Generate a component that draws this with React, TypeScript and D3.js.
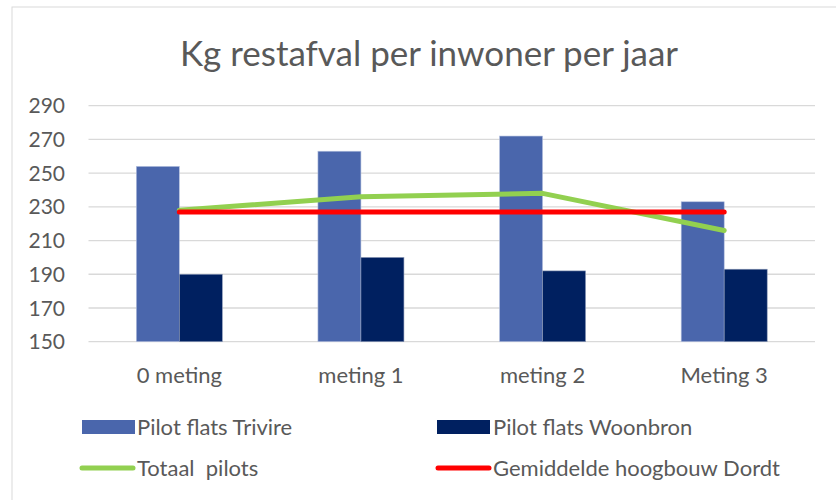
import React from 'react'
import * as d3 from 'd3'

const categories = ['0 meting', 'meting 1', 'meting 2', 'Meting 3']
const trivire = [254, 263, 272, 233]
const woonbron = [190, 200, 192, 193]
const totaalPilots = [228, 236, 238, 216]
const gemiddeldeDordt = [227, 227, 227, 227]
const yTicks = [150, 170, 190, 210, 230, 250, 270, 290]

const W = 836
const H = 500
const FONT = 'Lato, "Noto Sans", sans-serif'
const TEXT = '#595959'

export default function App() {
  const margin = { left: 88.5, right: 21, top: 105.7, bottom: 158.3 }

  const x = d3.scaleBand<string>()
    .domain(categories)
    .range([margin.left, W - margin.right])

  const y = d3.scaleLinear()
    .domain([150, 290])
    .range([H - margin.bottom, margin.top])

  const barW = 43
  const center = (c: string) => x(c)! + x.bandwidth() / 2

  const line = d3.line<number>()
    .x((_, i) => center(categories[i]))
    .y(d => y(d))

  return (
    <svg width={W} height={H} style={{ position: 'absolute', left: 0, top: 0, background: '#fff' }}>
      <rect x={12} y={7} width={W + 20} height={H + 20} fill="#fff" stroke="#d9d9d9" strokeWidth={1} />

      <text x={429} y={66} textAnchor="middle" fontFamily={FONT} fontSize={35} fill={TEXT}>
        Kg restafval per inwoner per jaar
      </text>

      {/* grid + y-axis labels */}
      {yTicks.map(t => (
        <g key={t}>
          <line x1={margin.left} x2={W - margin.right} y1={y(t)} y2={y(t)} stroke="#d9d9d9" strokeWidth={1.3} />
          <text x={65} y={y(t)} dy="0.36em" textAnchor="end" fontFamily={FONT} fontSize={21} fill={TEXT}>{t}</text>
        </g>
      ))}

      {/* bars */}
      {categories.map((c, i) => (
        <g key={c}>
          <rect x={center(c) - barW} y={y(trivire[i])} width={barW} height={y(150) - y(trivire[i])}
            fill="#4A66AC" stroke="#b4c0de" strokeWidth={0.6} />
          <rect x={center(c)} y={y(woonbron[i])} width={barW} height={y(150) - y(woonbron[i])}
            fill="#002060" stroke="#8c9ab8" strokeWidth={0.6} />
          <text x={center(c)} y={383} textAnchor="middle" fontFamily={FONT} fontSize={22} fill={TEXT}>{c}</text>
        </g>
      ))}

      <path d={line(totaalPilots)!} fill="none" stroke="#92D050" strokeWidth={5} strokeLinecap="round" strokeLinejoin="round" />
      <path d={line(gemiddeldeDordt)!} fill="none" stroke="#FF0000" strokeWidth={5} strokeLinecap="round" />

      {/* legend */}
      <g fontFamily={FONT} fontSize={22} fill={TEXT}>
        <rect x={82} y={420} width={53} height={14} fill="#4A66AC" />
        <text x={137} y={427} dy="0.35em">Pilot flats Trivire</text>
        <rect x={437} y={420} width={53} height={14} fill="#002060" />
        <text x={493} y={427} dy="0.35em">Pilot flats Woonbron</text>
        <line x1={82} x2={133} y1={468} y2={468} stroke="#92D050" strokeWidth={5} strokeLinecap="round" />
        <text x={137} y={468} dy="0.35em" style={{ whiteSpace: 'pre' }}>{'Totaal  pilots'}</text>
        <line x1={438} x2={489} y1={468} y2={468} stroke="#FF0000" strokeWidth={5} strokeLinecap="round" />
        <text x={493} y={468} dy="0.35em">Gemiddelde hoogbouw Dordt</text>
      </g>
    </svg>
  )
}
